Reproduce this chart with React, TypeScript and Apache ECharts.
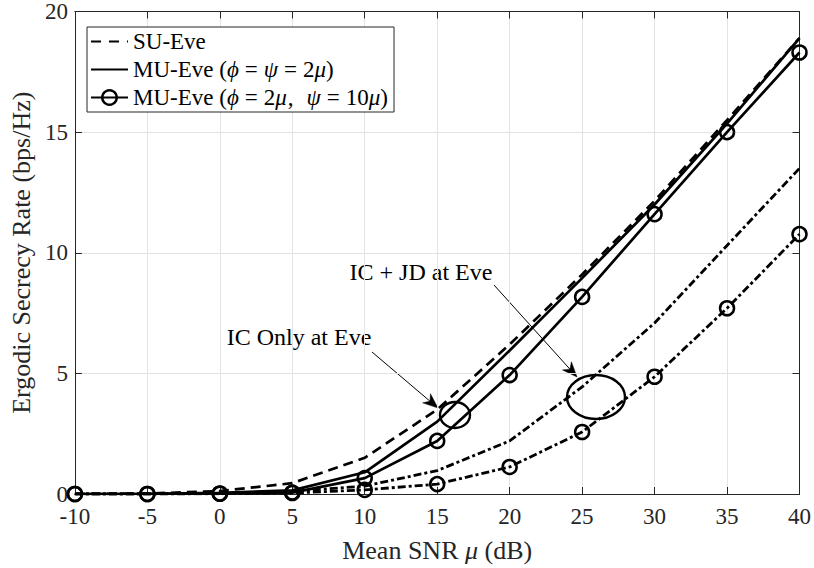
import React, { useEffect, useRef } from 'react';
import * as echarts from 'echarts';

// Mean SNR (dB)
const snr = [-10, -5, 0, 5, 10, 15, 20, 25, 30, 35, 40];
// IC only at Eve
const suEveIC = [0, 0.02, 0.12, 0.45, 1.5, 3.5, 6.2, 9.1, 12.15, 15.5, 18.9];
const muEveIC = [0, 0.01, 0.05, 0.15, 0.9, 3.0, 5.95, 8.95, 12.0, 15.35, 18.9];
const muEve10IC = [0, 0, 0.02, 0.06, 0.66, 2.2, 4.93, 8.17, 11.6, 15.0, 18.3];
// IC + JD at Eve
const suEveJD = [0, 0, 0.02, 0.1, 0.33, 0.97, 2.2, 4.44, 7.09, 10.3, 13.5];
const muEve10JD = [0, 0, 0.01, 0.04, 0.17, 0.41, 1.12, 2.57, 4.86, 7.7, 10.77];

const FONT = "'Liberation Serif', 'Times New Roman', serif";
const LEG_FS = 23;

const legendLabels: Record<string, string> = {
  'SU-Eve': 'SU-Eve',
  'MU-Eve A': 'MU-Eve ({i|ϕ}{e|=}{i|ψ}{e|=}2{i|μ})',
  'MU-Eve B': 'MU-Eve ({i|ϕ}{e|=}2{i|μ}{c|,}{i|ψ}{e|=}10{i|μ})',
};

function arrow(x1: number, y1: number, x2: number, y2: number) {
  const dx = x2 - x1;
  const dy = y2 - y1;
  const L = Math.sqrt(dx * dx + dy * dy);
  const ux = dx / L;
  const uy = dy / L;
  const px = -uy;
  const py = ux;
  const len = 15;
  const w = 6;
  const bx = x2 - ux * len;
  const by = y2 - uy * len;
  const nx = x2 - ux * len * 0.7;
  const ny = y2 - uy * len * 0.7;
  return [
    {
      type: 'line',
      shape: { x1, y1, x2: nx, y2: ny },
      style: { stroke: '#000', lineWidth: 1 },
    },
    {
      type: 'polygon',
      shape: {
        points: [
          [x2, y2],
          [bx + px * w, by + py * w],
          [nx, ny],
          [bx - px * w, by - py * w],
        ],
      },
      style: { fill: '#000', stroke: '#000', lineWidth: 0.5 },
    },
  ];
}

export default function App() {
  const ref = useRef<HTMLDivElement>(null);
  useEffect(() => {
    const chart = echarts.init(ref.current!, null, { renderer: 'svg' });
    const pts = (arr: number[]) => snr.map((x, i) => [x, arr[i]]);
    const grid = { left: 71, right: 14, top: 11, bottom: 74 };
    const xBase = { type: 'value', min: -10, max: 40, interval: 5 };
    const yBase = { type: 'value', min: 0, max: 20, interval: 5 };
    const axisLine = { show: true, onZero: false, lineStyle: { color: '#262626', width: 1 } };
    const axisTick = { show: true, inside: true, length: 7, lineStyle: { color: '#262626' } };
    const noSym = { color: 'rgba(0,0,0,0)', borderColor: 'rgba(0,0,0,0)', borderWidth: 0 };
    const openCircle = { color: 'rgba(255,255,255,0)', borderColor: '#000', borderWidth: 2.5 };
    const dashDot = [8, 3, 3, 3];
    const option: any = {
      animation: false,
      backgroundColor: '#fff',
      grid,
      xAxis: [
        {
          ...xBase,
          position: 'bottom',
          name: 'Mean SNR {i|μ} (dB)',
          nameLocation: 'middle',
          nameGap: 43,
          nameTextStyle: {
            fontFamily: FONT,
            fontSize: 26,
            color: '#262626',
            rich: { i: { fontFamily: FONT, fontSize: 26, fontStyle: 'italic', color: '#262626' } },
          },
          axisLine,
          axisTick,
          axisLabel: { fontFamily: FONT, fontSize: 23, color: '#262626', margin: 11 },
          splitLine: { show: true, lineStyle: { color: '#e3e3e3', width: 1 } },
        },
        {
          ...xBase,
          position: 'top',
          axisLine,
          axisTick,
          axisLabel: { show: false },
          splitLine: { show: false },
        },
      ],
      yAxis: [
        {
          ...yBase,
          position: 'left',
          name: 'Ergodic Secrecy Rate (bps/Hz)',
          nameLocation: 'middle',
          nameGap: 36,
          nameTextStyle: { fontFamily: FONT, fontSize: 26, color: '#262626' },
          axisLine,
          axisTick,
          axisLabel: { fontFamily: FONT, fontSize: 23, color: '#262626', margin: 7 },
          splitLine: { show: true, lineStyle: { color: '#e3e3e3', width: 1 } },
        },
        {
          ...yBase,
          position: 'right',
          axisLine,
          axisTick,
          axisLabel: { show: false },
          splitLine: { show: false },
        },
      ],
      legend: {
        orient: 'vertical',
        left: 87,
        top: 27,
        padding: [3, 6, 3, 3],
        itemWidth: 37,
        itemHeight: 18,
        itemGap: 5,
        backgroundColor: '#fff',
        borderColor: '#262626',
        borderWidth: 1,
        borderRadius: 0,
        data: [
          { name: 'SU-Eve', itemStyle: noSym, lineStyle: { type: [10, 8] } },
          { name: 'MU-Eve A', itemStyle: noSym },
          { name: 'MU-Eve B', itemStyle: openCircle },
        ],
        formatter: (name: string) => legendLabels[name] || name,
        textStyle: {
          fontFamily: FONT,
          fontSize: LEG_FS,
          color: '#000',
          rich: {
            i: { fontFamily: FONT, fontSize: LEG_FS, fontStyle: 'italic', color: '#000' },
            e: { fontFamily: FONT, fontSize: LEG_FS, color: '#000', padding: [0, 6, 0, 6] },
            c: { fontFamily: FONT, fontSize: LEG_FS, color: '#000', padding: [0, 13, 0, 1] },
          },
        },
      },
      series: [
        {
          name: 'SU-Eve JD',
          type: 'line',
          data: pts(suEveJD),
          symbol: 'none',
          lineStyle: { color: '#000', width: 2.8, type: dashDot },
          z: 2,
        },
        {
          name: 'MU-Eve B JD',
          type: 'line',
          data: pts(muEve10JD),
          symbol: 'circle',
          symbolSize: 14,
          itemStyle: openCircle,
          lineStyle: { color: '#000', width: 2.8, type: dashDot },
          z: 2,
        },
        {
          name: 'SU-Eve',
          type: 'line',
          data: pts(suEveIC),
          symbol: 'none',
          itemStyle: { color: '#000' },
          lineStyle: { color: '#000', width: 2.7, type: [10, 6] },
          z: 3,
        },
        {
          name: 'MU-Eve A',
          type: 'line',
          data: pts(muEveIC),
          symbol: 'none',
          itemStyle: { color: '#000' },
          lineStyle: { color: '#000', width: 2.7, type: 'solid' },
          z: 3,
        },
        {
          name: 'MU-Eve B',
          type: 'line',
          data: pts(muEve10IC),
          symbol: 'circle',
          symbolSize: 14,
          itemStyle: openCircle,
          lineStyle: { color: '#000', width: 2.7, type: 'solid' },
          z: 3,
        },
      ],
      graphic: [
        {
          type: 'text',
          x: 299,
          y: 337,
          style: {
            text: 'IC Only at Eve',
            fontFamily: FONT,
            fontSize: 24,
            fill: '#000',
            align: 'center',
            verticalAlign: 'middle',
          },
        },
        {
          type: 'text',
          x: 421,
          y: 272,
          style: {
            text: 'IC + JD at Eve',
            fontFamily: FONT,
            fontSize: 24,
            fill: '#000',
            align: 'center',
            verticalAlign: 'middle',
          },
        },
        ...arrow(372, 352, 438, 408),
        ...arrow(494, 285, 577, 377),
        {
          type: 'ellipse',
          shape: { cx: 455, cy: 415, rx: 15, ry: 13 },
          style: { fill: 'none', stroke: '#000', lineWidth: 2.4 },
          z: 10,
        },
        {
          type: 'ellipse',
          shape: { cx: 596, cy: 397, rx: 29, ry: 22 },
          style: { fill: 'none', stroke: '#000', lineWidth: 2.4 },
          z: 10,
        },
      ],
    };
    chart.setOption(option);
    return () => chart.dispose();
  }, []);
  return (
    <div
      ref={ref}
      style={{ position: 'absolute', left: 0, top: 0, width: 814, height: 568, background: '#fff' }}
    />
  );
}
